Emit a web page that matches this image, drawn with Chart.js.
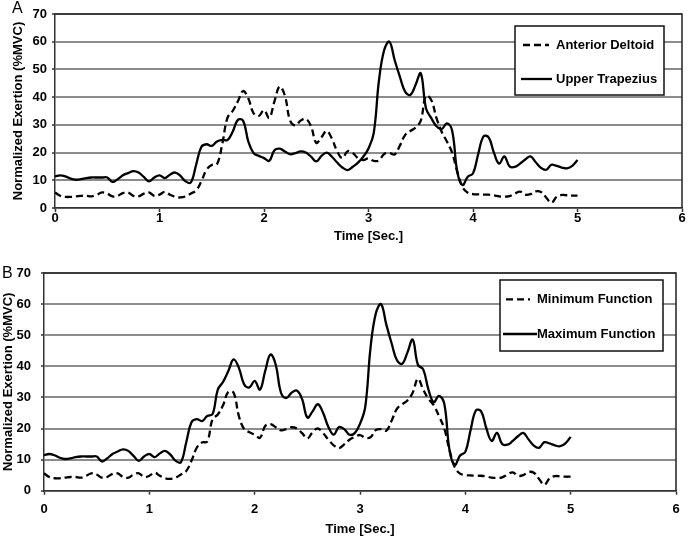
<!DOCTYPE html>
<html><head><meta charset="utf-8">
<script src="https://cdn.jsdelivr.net/npm/chart.js@4.4.1/dist/chart.umd.min.js"></script>
<style>
html,body{margin:0;padding:0;background:#fff;}
#wrap{position:relative;width:690px;height:542px;overflow:hidden;background:#fff;}
canvas{position:absolute;left:0;}
#c1{top:0;width:690px;height:250px;}
#c2{top:250px;width:690px;height:292px;}
.lbl{position:absolute;font-family:"Liberation Sans",Arial,sans-serif;font-size:16px;line-height:1;color:#000;}
</style></head><body>
<div id="wrap">
<canvas id="c1" width="690" height="250"></canvas>
<canvas id="c2" width="690" height="292"></canvas>
<div class="lbl" style="left:12px;top:0px">A</div>
<div class="lbl" style="left:2px;top:265px">B</div>
</div>
<script>
// ---- data ----
const time = [0,0.05,0.1,0.15,0.2,0.25,0.3,0.35,0.4,0.45,0.5,0.55,0.6,0.65,0.7,0.75,0.8,0.85,0.9,0.95,
  1,1.05,1.1,1.15,1.2,1.25,1.3,1.35,1.4,1.45,1.5,1.55,1.6,1.65,1.7,1.75,1.8,1.85,1.9,1.95,
  2,2.05,2.1,2.15,2.2,2.25,2.3,2.35,2.4,2.45,2.5,2.55,2.6,2.65,2.7,2.75,2.8,2.85,2.9,2.95,
  3,3.05,3.1,3.15,3.2,3.25,3.3,3.35,3.4,3.45,3.5,3.55,3.6,3.65,3.7,3.75,3.8,3.85,3.9,3.95,
  4,4.05,4.1,4.15,4.2,4.25,4.3,4.35,4.4,4.45,4.5,4.55,4.6,4.65,4.7,4.75,4.8,4.85,4.9,4.95,5];

const anteriorDeltoid = [5.6,4.4,4.0,4.0,4.2,4.4,4.4,4.2,4.8,5.6,
  5.2,4.2,4.4,5.4,5.6,4.4,4.2,5.2,5.6,4.4,
  4.8,5.8,4.8,4.0,3.8,4.2,5.2,6.3,9.6,13.8,
  15.5,15.8,23.0,32.5,35.0,38.5,42.2,39.5,34.2,33.2,
  35.3,32.5,38.5,43.8,40.5,31.5,29.8,31.5,32.2,29.5,
  23.5,25.5,27.8,25.0,20.5,18.0,20.5,19.8,18.0,17.3,
  17.9,17.0,17.2,19.5,19.8,19.3,22.5,26.3,27.8,29.0,
  31.5,40.5,39.0,32.5,27.5,24.0,20.0,13.0,7.5,5.5,
  5.0,4.9,4.8,4.8,4.6,4.2,4.1,4.3,5.2,5.9,
  4.8,5.0,6.0,5.8,3.8,1.9,4.0,4.7,4.6,4.5,4.5];

const upperTrapezius = [11.4,11.8,11.4,10.6,10.2,10.4,10.8,11.0,11.0,11.0,
  11.0,9.4,10.4,11.8,12.6,13.3,12.8,11.2,9.6,11.0,
  11.8,10.8,12.0,12.8,11.6,9.6,9.2,15.5,22.0,23.0,
  22.4,24.0,24.6,24.5,27.5,31.8,31.5,24.0,19.8,18.8,
  18.0,17.0,20.8,21.4,20.4,19.4,19.8,20.4,20.0,18.5,
  16.8,18.8,20.0,18.5,16.4,14.6,13.7,14.9,16.4,18.5,
  21.5,27.0,46.0,57.0,60.0,53.4,47.4,42.0,40.8,44.4,
  48.6,36.0,32.5,29.5,28.5,30.5,28.0,13.0,8.3,11.3,
  12.5,19.5,25.8,25.5,20.0,16.0,18.6,15.0,14.8,16.0,
  17.5,18.6,16.5,14.5,13.8,15.6,15.2,14.6,14.3,15.2,17.3];

const minimumFunction = [5.6,4.4,4.0,4.0,4.2,4.4,4.4,4.2,4.8,5.6,
  5.2,4.2,4.4,5.4,5.6,4.4,4.2,5.2,5.6,4.4,
  4.8,5.8,4.8,4.0,3.8,4.2,5.2,6.3,9.6,13.8,
  15.5,15.8,23.0,24.5,27.5,31.8,31.5,24.0,19.8,18.8,
  18.0,17.0,20.8,21.4,20.4,19.4,19.8,20.4,20.0,18.5,
  16.8,18.8,20.0,18.5,16.4,14.6,13.7,14.9,16.4,17.3,
  17.9,17.0,17.2,19.5,19.8,19.3,22.5,26.3,27.8,29.0,
  31.5,36.0,32.5,29.5,27.5,24.0,20.0,13.0,7.5,5.5,
  5.0,4.9,4.8,4.8,4.6,4.2,4.1,4.3,5.2,5.9,
  4.8,5.0,6.0,5.8,3.8,1.9,4.0,4.7,4.6,4.5,4.5];

const maximumFunction = [11.4,11.8,11.4,10.6,10.2,10.4,10.8,11.0,11.0,11.0,
  11.0,9.4,10.4,11.8,12.6,13.3,12.8,11.2,9.6,11.0,
  11.8,10.8,12.0,12.8,11.6,9.6,9.2,15.5,22.0,23.0,
  22.4,24.0,24.6,32.5,35.0,38.5,42.2,39.5,34.2,33.2,
  35.3,32.5,38.5,43.8,40.5,31.5,29.8,31.5,32.2,29.5,
  23.5,25.5,27.8,25.0,20.5,18.0,20.5,19.8,18.0,18.5,
  21.5,27.0,46.0,57.0,60.0,53.4,47.4,42.0,40.8,44.4,
  48.6,40.5,39.0,32.5,28.5,30.5,28.0,13.0,8.3,11.3,
  12.5,19.5,25.8,25.5,20.0,16.0,18.6,15.0,14.8,16.0,
  17.5,18.6,16.5,14.5,13.8,15.6,15.2,14.6,14.3,15.2,17.3];

const xTickMax = 6;
const yTickMax = 70;
const yTitle = 'Normalized Exertion (%MVC)';
const xTitle = 'Time [Sec.]';

// ---- rendering ----
const FONT = '"Liberation Sans", Arial, sans-serif';
Chart.defaults.font.family = FONT;
Chart.defaults.color = '#000';

function pts(xs, ys){ return xs.map((x,i)=>({x:x, y:ys[i]})); }

const framePlugin = {
  id: 'frame',
  afterDatasetsDraw(chart){
    const {ctx, chartArea:a} = chart;
    ctx.save();
    ctx.strokeStyle = '#222';
    ctx.lineWidth = 1.5;
    ctx.beginPath();
    ctx.moveTo(a.left, a.top); ctx.lineTo(a.right, a.top); ctx.lineTo(a.right, a.bottom);
    ctx.stroke();
    ctx.restore();
  }
};

const boxLegend = {
  id: 'boxLegend',
  afterDraw(chart, args, o){
    const {ctx, chartArea:a} = chart;
    const x0 = a.right - o.right - o.w, y0 = a.top + o.top;
    ctx.save();
    ctx.fillStyle = '#fff';
    ctx.fillRect(x0, y0, o.w, o.h);
    ctx.strokeStyle = '#111';
    ctx.lineWidth = 1.5;
    ctx.strokeRect(x0, y0, o.w, o.h);
    ctx.font = 'bold 13px ' + FONT;
    ctx.textBaseline = 'middle';
    ctx.textAlign = 'left';
    ctx.fillStyle = '#000';
    chart.data.datasets.forEach((ds, i) => {
      const y = y0 + o.rows[i];
      ctx.beginPath();
      ctx.setLineDash(ds.borderDash || []);
      ctx.lineWidth = ds.borderWidth;
      ctx.strokeStyle = '#000';
      ctx.moveTo(x0 + o.s0[i], y); ctx.lineTo(x0 + o.s1[i], y);
      ctx.stroke();
      ctx.setLineDash([]);
      ctx.fillText(ds.label, x0 + o.tx, y);
    });
    ctx.restore();
  }
};

function makeChart(id, names, series, L){
  const dash = [7,4];
  return new Chart(document.getElementById(id), {
    type: 'line',
    data: {
      datasets: [
        {label: names[0], data: pts(time, series[0]), borderColor:'#000', borderWidth:2.3, borderDash: dash, pointRadius:0, tension:0.4, fill:false},
        {label: names[1], data: pts(time, series[1]), borderColor:'#000', borderWidth:2.3, pointRadius:0, tension:0.4, fill:false}
      ]
    },
    options: {
      responsive: false,
      animation: false,
      events: [],
      layout: {padding: {top: L.padTop, right: L.padRight, left: 0, bottom: 0}},
      plugins: {
        legend: {display:false},
        tooltip: {enabled:false},
        boxLegend: L.legend
      },
      scales: {
        x: {
          type: 'linear', min: 0, max: xTickMax,
          afterFit: s => { s.height = L.xH; },
          ticks: {stepSize: 1, padding: L.xTickPad, font: {size: 13, weight: 'bold', lineHeight: 1}, color:'#000'},
          grid: {drawOnChartArea: false, drawTicks: true, tickLength: 4, tickColor: '#333', tickWidth: 1.5},
          border: {display: true, color: '#333', width: 1.5},
          title: {display: true, text: xTitle, font: {size: 13, weight: 'bold'}, color:'#000', padding: {top: 0, bottom: L.xTitlePad}}
        },
        y: {
          min: 0, max: yTickMax,
          afterFit: s => { s.width = L.yW; },
          ticks: {stepSize: 10, padding: L.yTickPad, font: {size: 13, weight: 'bold', lineHeight: 1}, color:'#000'},
          grid: {color: '#8c8c8c', lineWidth: 2, drawTicks: true, tickLength: 3, tickColor: '#333', tickWidth: 1.5},
          border: {display: true, color: '#333', width: 1.5},
          title: {display: true, text: yTitle, font: {size: 13, weight: 'bold'}, color:'#000', padding: {top: L.yTitlePad, bottom: 0}}
        }
      }
    },
    plugins: [framePlugin, boxLegend]
  });
}

makeChart('c1', ['Anterior Deltoid', 'Upper Trapezius'], [anteriorDeltoid, upperTrapezius], {
  padTop: 14, padRight: 8, xH: 42, yW: 55, xTickPad: 0, yTickPad: 5, xTitlePad: 6.2, yTitlePad: 10.7,
  legend: {right: 18, top: 12, w: 149, h: 69, rows: [19, 53], s0: [8, 6], s1: [34, 37], tx: 41}
});
makeChart('c2', ['Minimum Function', 'Maximum Function'], [minimumFunction, maximumFunction], {
  padTop: 23, padRight: 14, xH: 51.3, yW: 44, xTickPad: 8, yTickPad: 10, xTitlePad: 5.2, yTitlePad: 0.7,
  legend: {right: 13, top: 7, w: 163, h: 71, rows: [19.3, 54], s0: [6, 3], s1: [30, 37], tx: 37}
});
</script>
</body></html>
